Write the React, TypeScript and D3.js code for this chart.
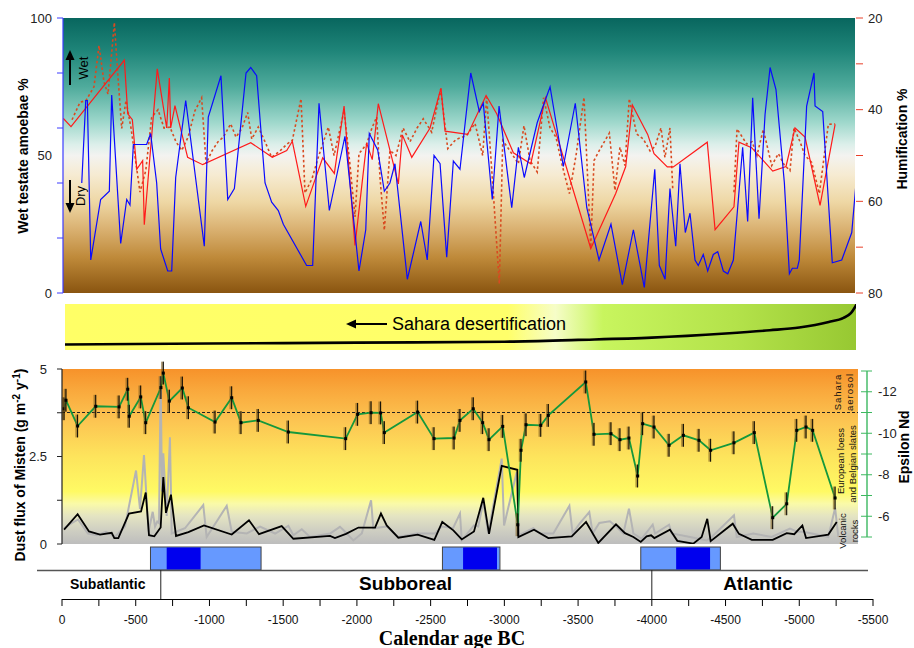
import React from "react"
import * as d3 from "d3"

// ---- top panel: testate amoebae (left axis) and humification (right axis)
const blueAge = [-134, -161, -172, -195, -262, -321, -337, -398, -439, -461, -484, -574, -601, -642, -669, -717, -744, -771, -839, -965, -992, -1078, -1124, -1169, -1248, -1280, -1320, -1377, -1422, -1467, -1501, -1659, -1700, -1743, -1813, -1919, -2014, -2060, -2084, -2141, -2186, -2224, -2258, -2342, -2433, -2477, -2523, -2564, -2609, -2654, -2699, -2772, -2830, -2857, -2918, -2964, -3050, -3095, -3135, -3223, -3310, -3400, -3481, -3559, -3642, -3723, -3800, -3875, -3949, -4020, -4051, -4090, -4123, -4162, -4191, -4227, -4259, -4293, -4315, -4349, -4379, -4417, -4447, -4485, -4515, -4553, -4616, -4650, -4684, -4727, -4768, -4802, -4842, -4899, -4933, -4953, -4987, -5000, -5050, -5100, -5107, -5159, -5224, -5288, -5356, -5385]
const blueVal = [40, 70, 70, 12, 34, 37, 72, 18, 34, 32, 54, 54, 58, 40, 16, 8, 8, 42, 70, 17, 64, 79, 34, 38, 80, 82, 79, 40, 33, 30, 25, 10, 10, 69, 30, 57, 8, 23, 58, 52, 37, 40, 47, 5, 26, 12, 50, 47, 13, 48, 45, 80, 66, 69, 34, 68, 31, 53, 42, 62, 75, 46, 69, 31, 12, 25, 3, 23, 2, 45, 10, 5, 38, 17, 47, 22, 29, 12, 10, 14, 8, 14, 15, 8, 7, 12, 53, 26, 71, 27, 65, 82, 74, 40, 7, 9, 9, 12, 68, 80, 68, 66, 11, 12, 22, 40]

const humAge = [-9, -61, -423, -446, -477, -507, -547, -558, -646, -710, -728, -737, -766, -852, -954, -1280, -1426, -1524, -1562, -1653, -1768, -1847, -1913, -1987, -2066, -2104, -2145, -2281, -2308, -2372, -2496, -2570, -2598, -2751, -2876, -2948, -3061, -3179, -3279, -3586, -3755, -3823, -3868, -3972, -4015, -4105, -4146, -4376, -4429, -4557, -4591, -4677, -4820, -4910, -4971, -5039, -5141, -5243]
const humVal = [41.9, 43.7, 29.2, 40.9, 42.2, 53, 51.1, 65.1, 31.1, 44, 33.1, 44, 39.1, 50.4, 52, 47.2, 50.4, 48.9, 46.9, 61.1, 50.5, 53.9, 39.2, 69.6, 47.3, 50.9, 38.7, 56.2, 45.5, 50.4, 44, 35.3, 44.7, 45.4, 36.9, 40.9, 49.4, 51.8, 37.4, 70.3, 58.3, 52.4, 39, 45.4, 49.6, 52.5, 52.5, 47.1, 66.2, 61.2, 47.1, 48.3, 53.4, 52.4, 44, 46, 60.9, 43.2]

const hum2Age = [-68, -122, -163, -217, -251, -285, -312, -355, -380, -405, -434, -468, -529, -568, -608, -651, -692, -732, -773, -812, -855, -902, -947, -977, -1017, -1058, -1094, -1144, -1180, -1221, -1259, -1287, -1331, -1377, -1422, -1478, -1526, -1562, -1621, -1648, -1696, -1738, -1806, -1845, -1913, -1953, -1987, -2014, -2066, -2102, -2134, -2157, -2186, -2224, -2265, -2313, -2360, -2408, -2450, -2507, -2568, -2616, -2672, -2745, -2801, -2853, -2880, -2921, -2966, -2989, -3038, -3095, -3133, -3174, -3223, -3266, -3310, -3350, -3391, -3441, -3486, -3540, -3586, -3608, -3637, -3712, -3750, -3784, -3818, -3847, -3897, -3942, -3988, -4022, -4062, -4089, -4123, -4142, -4350, -4557, -4578, -4644, -4680, -4713, -4756, -4813, -4858, -4897, -4937, -4964, -5005, -5039, -5084, -5136, -5197, -5243]
const hum2Val = [42.2, 38.4, 38, 35, 26, 34, 36.6, 21, 33, 44.1, 38, 44, 58, 53.3, 41.7, 40, 44, 43.8, 47, 48.9, 46, 40.2, 37.4, 51.8, 49, 47, 46, 43.1, 46, 44, 40.6, 46.4, 43.8, 47, 50.4, 49, 47.5, 46.7, 37.6, 58.2, 55, 50.4, 43.8, 50, 40.2, 52, 63.4, 49.6, 47.5, 44, 41.6, 55, 66.3, 48.9, 50, 44, 47, 44, 42, 44.9, 35.5, 48.5, 46.5, 45.6, 43, 50, 37.3, 56.2, 78, 46.7, 49, 51.8, 43.5, 51.1, 53.6, 37.4, 44, 46, 52, 58.3, 50, 37.3, 70, 51.1, 49.3, 45.1, 57.6, 48.2, 52.2, 37.6, 45.3, 46.4, 49, 48, 44, 50.4, 44, 57.3, null, 58, 44.2, 47.5, 47, 50, 44.3, 52.2, 49.6, 52, 53.3, 44, 47, 50, 51.5, 58.3, 43.2, 43.1]

// ---- Sahara desertification band
const saharaAge = [0, -1000, -2000, -3000, -3500, -4000, -4500, -4800, -5000, -5200, -5300, -5350, -5390]
const saharaVal = [0.12, 0.14, 0.16, 0.18, 0.22, 0.27, 0.36, 0.43, 0.49, 0.61, 0.7, 0.8, 1.0]

// ---- bottom panel: epsilon Nd and dust flux
const ndAge = [-14, -27, -106, -229, -387, -446, -456, -534, -568, -671, -687, -728, -816, -857, -1038, -1151, -1214, -1331, -1535, -1924, -2005, -2096, -2161, -2186, -2412, -2523, -2659, -2699, -2789, -2853, -2896, -2989, -3091, -3113, -3147, -3247, -3298, -3552, -3608, -3723, -3784, -3845, -3904, -3938, -4015, -4117, -4214, -4320, -4399, -4557, -4695, -4820, -4915, -4983, -5046, -5091, -5243]
const ndVal = [-11.18, -11.59, -10.35, -11.3, -11.27, -12.12, -10.82, -11.75, -10.51, -12.2, -12.9, -11.55, -12.18, -11.23, -10.54, -11.71, -10.51, -10.62, -10.06, -9.74, -10.91, -10.99, -10.98, -10.03, -11.02, -9.74, -9.77, -10.62, -11.18, -10.51, -9.69, -10.33, -5.59, -9.18, -10.41, -10.38, -10.86, -12.47, -9.95, -9.98, -9.69, -9.77, -7.94, -10.46, -10.3, -9.42, -9.9, -9.66, -9.18, -9.54, -10.03, -5.93, -6.6, -10.14, -10.3, -10.14, -6.88]
const ndErr = 0.55

const dustAge = [-14, -106, -183, -258, -337, -355, -382, -454, -536, -568, -590, -626, -669, -687, -705, -739, -773, -857, -963, -1151, -1268, -1336, -1490, -1569, -1818, -1851, -1926, -2010, -2123, -2163, -2202, -2281, -2412, -2525, -2579, -2654, -2711, -2794, -2857, -2896, -2982, -3088, -3095, -3201, -3298, -3457, -3554, -3637, -3757, -3818, -3875, -3925, -3965, -3995, -4017, -4123, -4173, -4281, -4338, -4376, -4399, -4549, -4591, -4678, -4820, -4915, -4966, -5021, -5046, -5197, -5254]
const dustVal = [0.41, 0.85, 0.36, 0.27, 0.32, 0.17, 0.17, 0.87, 0.93, 1.47, 0.25, 0.22, 0.47, 1.91, 0.89, 1.41, 0.23, 0.34, 0.53, 0.27, 0.68, 0.28, 0.51, 0.15, 0.23, 0.17, 0.29, 0.47, 0.47, 0.87, 0.53, 0.18, 0.27, 0.12, 0.63, 0.39, 0.13, 0.36, 1.32, 0.29, 2.23, 2.12, 0.2, 0.41, 0.17, 0.22, 0.63, 0.03, 0.56, 0.31, 0.2, 0.06, 0.22, 0.25, 0.17, 0.41, 0.09, 0.01, 0.2, 0.72, 0.08, 0.58, 0.29, 0.12, 0.12, 0.31, 0.28, 0.53, 0.17, 0.27, 0.63]

const dustHiAge = [-14, -68, -109, -176, -237, -298, -359, -427, -502, -529, -556, -587, -615, -631, -646, -658, -669, -678, -687, -710, -732, -744, -834, -958, -981, -1117, -1151, -1253, -1343, -1445, -1535, -1569, -1626, -1682, -1818, -1885, -1908, -1976, -2033, -2096, -2111, -2202, -2277, -2406, -2530, -2575, -2652, -2699, -2711, -2794, -2823, -2857, -2891, -2982, -2998, -3084, -3099, -3196, -3242, -3332, -3441, -3463, -3513, -3576, -3599, -3644, -3716, -3757, -3807, -3845, -3875, -3931, -4006, -4022, -4117, -4135, -4259, -4372, -4406, -4557, -4576, -4688, -4813, -4937, -4983, -5027, -5084, -5197, -5243, -5265]
const dustHiVal = [0.45, 0.6, 0.7, 0.3, 0.25, 0.35, 0.2, 0.5, 2.1, 1.0, 2.54, 0.35, 0.92, 0.5, 0.64, 0.6, 4.8, 1.5, 2.59, 0.8, 3.05, 0.3, 0.45, 1.11, 0.2, 1.09, 0.35, 0.3, 0.5, 0.3, 0.52, 0.25, 0.42, 0.2, 0.3, 0.49, 0.4, 0.1, 0.3, 1.25, 0.45, 0.5, 0.2, 0.3, 0.3, 0.5, 0.45, 0.87, 0.1, 0.53, 0.5, 1.2, 0.3, 2.44, 0.53, 2.06, 0.25, 0.45, 0.3, 0.3, 1.09, 0.3, 0.6, 0.91, 0.3, 0.6, 0.65, 0.5, 0.3, 1.01, 0.3, 0.15, 0.55, 0.3, 0.55, 0.3, 0.2, 0.1, 0.2, 0.82, 0.2, 0.3, 0.2, 0.44, 0.35, 0.35, 0.3, 0.2, 1.03, 0.2]

// ---- wet shifts (blue boxes) and chronozones
const boxStart = [-600, -2580, -3925]
const boxEnd = [-1350, -2970, -4465]
const coreStart = [-710, -2720, -4165]
const coreEnd = [-940, -2950, -4395]
const zoneBreaks = [-670, -4000]
const zoneNames = ["Subatlantic", "Subboreal", "Atlantic"]
const zoneMid = [-310, -2330, -4720]

const xTicks = d3.range(0, -5501, -250)
const xLabels = d3.range(0, -5501, -500)

const FONT = "Arial, 'Liberation Sans', sans-serif"
const NARROW = "'Liberation Sans Narrow', 'Arial Narrow', Arial, sans-serif"

export default function App() {
  const x = d3.scaleLinear().domain([0, -5500]).range([62, 873])
  const yWet = d3.scaleLinear().domain([0, 100]).range([293, 18])
  const yHum = d3.scaleLinear().domain([20, 80]).range([18, 293])
  const ySah = d3.scaleLinear().domain([0, 1]).range([350, 304])
  const yDust = d3.scaleLinear().domain([0, 5]).range([544, 369])
  const yNd = d3.scaleLinear().domain([-13, -5]).range([371, 537])

  const path = (ages: number[], vals: (number | null)[], y: d3.ScaleLinear<number, number>, curve = d3.curveLinear) =>
    d3.line<number>()
      .defined(i => vals[i] != null)
      .x(i => x(ages[i]))
      .y(i => y(vals[i] as number))
      .curve(curve)(d3.range(ages.length)) || ""

  const rot = (cx: number, cy: number) => `rotate(-90 ${cx} ${cy})`

  return (
    <div style={{ position: "absolute", left: 0, top: 0 }}>
      <svg width={914} height={648} style={{ display: "block", fontFamily: FONT }}>
        <defs>
          <linearGradient id="topBg" x1="0" y1="0" x2="0" y2="1">
            <stop offset="0" stopColor="#08665e" />
            <stop offset="0.12" stopColor="#1f8579" />
            <stop offset="0.25" stopColor="#4fab9c" />
            <stop offset="0.38" stopColor="#9fd8cc" />
            <stop offset="0.46" stopColor="#dcefea" />
            <stop offset="0.5" stopColor="#f3f3f0" />
            <stop offset="0.57" stopColor="#f6ebd2" />
            <stop offset="0.67" stopColor="#eed7a4" />
            <stop offset="0.77" stopColor="#d9b070" />
            <stop offset="0.87" stopColor="#bf8a3a" />
            <stop offset="1" stopColor="#8a5510" />
          </linearGradient>
          <linearGradient id="botBg" x1="0" y1="0" x2="0" y2="1">
            <stop offset="0" stopColor="#f7922a" />
            <stop offset="0.12" stopColor="#f9a83c" />
            <stop offset="0.3" stopColor="#fcc552" />
            <stop offset="0.5" stopColor="#fde45c" />
            <stop offset="0.7" stopColor="#fffa64" />
            <stop offset="0.77" stopColor="#fafaa8" />
            <stop offset="0.84" stopColor="#e4e4c2" />
            <stop offset="0.92" stopColor="#cfcfc2" />
            <stop offset="1" stopColor="#bdbdbd" />
          </linearGradient>
          <linearGradient id="sahBg" x1="0" y1="0" x2="1" y2="0">
            <stop offset="0" stopColor="#ffff66" />
            <stop offset="0.56" stopColor="#ffff6a" />
            <stop offset="0.62" stopColor="#f6fdc8" />
            <stop offset="0.68" stopColor="#c8f55e" />
            <stop offset="0.85" stopColor="#b3e24a" />
            <stop offset="1" stopColor="#97c832" />
          </linearGradient>
          <linearGradient id="humAxis" x1="0" y1="0" x2="0" y2="1">
            <stop offset="0" stopColor="#8a5a50" />
            <stop offset="0.5" stopColor="#f06a6a" />
            <stop offset="1" stopColor="#e02a10" />
          </linearGradient>
          <clipPath id="topClip"><rect x={63} y={18} width={792} height={275} /></clipPath>
          <clipPath id="sahClip"><rect x={65} y={304} width={791} height={46} /></clipPath>
          <clipPath id="botClip"><rect x={62} y={360} width={796} height={184} /></clipPath>
        </defs>

        {/* ================= top panel ================= */}
        <rect x={63} y={18} width={792} height={275} fill="url(#topBg)" />
        <g clipPath="url(#topClip)" fill="none">
          <path d={path(hum2Age, hum2Val, yHum)} stroke="#d84a20" strokeWidth={1.6} strokeDasharray="2.5,2.5" />
          <path d={path(humAge, humVal, yHum)} stroke="#ff1a1a" strokeWidth={1.2} />
          <path d={path(blueAge, blueVal, yWet)} stroke="#0a0aff" strokeWidth={1.2} />
        </g>

        {/* left axis */}
        <line x1={63} x2={63} y1={18} y2={293} stroke="#3b3bff" strokeWidth={1.2} />
        {yWet.ticks(4).map(t => (
          <line key={t} x1={57} x2={63} y1={yWet(t)} y2={yWet(t)} stroke="#3b3bff" />
        ))}
        {[0, 50, 100].map(t => (
          <text key={t} x={52} y={yWet(t) + 4.5} textAnchor="end" fontSize={13} fill="#222">{t}</text>
        ))}
        <text transform={rot(28, 156)} x={28} y={156} textAnchor="middle" fontSize={14} fontWeight="bold">Wet testate amoebae %</text>

        {/* wet / dry arrows */}
        <line x1={70} x2={70} y1={85} y2={58} stroke="#000" strokeWidth={2} />
        <polygon points="70,50 65.5,60 74.5,60" fill="#000" />
        <text transform={rot(88, 68)} x={88} y={68} textAnchor="middle" fontSize={13}>Wet</text>
        <line x1={70} x2={70} y1={180} y2={205} stroke="#000" strokeWidth={2} />
        <polygon points="70,213 65.5,203 74.5,203" fill="#000" />
        <text transform={rot(85, 196)} x={85} y={196} textAnchor="middle" fontSize={13}>Dry</text>

        {/* right axis (humification) */}
        <line x1={856} x2={856} y1={18} y2={293} stroke="url(#humAxis)" strokeWidth={1.4} />
        {d3.range(20, 81, 10).map(t => (
          <line key={t} x1={856} x2={863} y1={yHum(t)} y2={yHum(t)} stroke="#e8402a" />
        ))}
        {[20, 40, 60, 80].map(t => (
          <text key={t} x={868} y={yHum(t) + 4.5} fontSize={13} fill="#222">{t}</text>
        ))}
        <text transform={rot(907, 139)} x={907} y={139} textAnchor="middle" fontSize={14} fontWeight="bold">Humification %</text>

        {/* ================= Sahara band ================= */}
        <rect x={65} y={304} width={791} height={46} fill="url(#sahBg)" />
        <path clipPath="url(#sahClip)" d={path(saharaAge, saharaVal, ySah, d3.curveMonotoneX)} fill="none" stroke="#000" strokeWidth={2.6} />
        <line x1={354} x2={387} y1={324} y2={324} stroke="#000" strokeWidth={2} />
        <polygon points="346,324 356,319.5 356,328.5" fill="#000" />
        <text x={392} y={330} fontSize={18} fontFamily={NARROW}>Sahara desertification</text>

        {/* ================= bottom panel ================= */}
        <rect x={62} y={369} width={796} height={175} fill="url(#botBg)" />
        <line x1={62} x2={858} y1={yNd(-11)} y2={yNd(-11)} stroke="#222" strokeWidth={1} strokeDasharray="3,2" />
        <g clipPath="url(#botClip)" fill="none">
          <path d={path(dustHiAge, dustHiVal, yDust)} stroke="#b4b4b4" strokeWidth={2} />
          <path d={path(dustAge, dustVal, yDust)} stroke="#000" strokeWidth={1.8} />
        </g>
        <path d={path(ndAge, ndVal, yNd)} fill="none" stroke="#15983c" strokeWidth={1.8} />
        {ndAge.map((a, i) => (
          <g key={i}>
            <line x1={x(a) - 1} x2={x(a) - 1} y1={yNd(ndVal[i] - ndErr)} y2={yNd(ndVal[i] + ndErr)} stroke="#7a5a20" strokeOpacity={0.6} strokeWidth={2.5} />
            <line x1={x(a)} x2={x(a)} y1={yNd(ndVal[i] - ndErr)} y2={yNd(ndVal[i] + ndErr)} stroke="#000" strokeWidth={1} />
            <rect x={x(a) - 1.5} y={yNd(ndVal[i]) - 1.5} width={3} height={3} fill="#000" />
          </g>
        ))}

        {/* left axis dust */}
        <line x1={62} x2={62} y1={369} y2={544} stroke="#222" strokeWidth={1.2} />
        {[0, 1.25, 2.5, 3.75, 5].map(t => (
          <line key={t} x1={57} x2={62} y1={yDust(t)} y2={yDust(t)} stroke="#222" />
        ))}
        {[0, 2.5, 5].map(t => (
          <text key={t} x={47} y={yDust(t) + 4.5} textAnchor="end" fontSize={13} fill="#222">{t}</text>
        ))}
        <text transform={rot(25, 465)} x={25} y={465} textAnchor="middle" fontSize={14} fontWeight="bold">
          Dust flux of Misten (g m<tspan dy={-5} fontSize={10}>-2</tspan><tspan dy={5}> y</tspan><tspan dy={-5} fontSize={10}>-1</tspan><tspan dy={5}>)</tspan>
        </text>

        {/* right axis epsilon Nd */}
        <line x1={867} x2={867} y1={371} y2={537} stroke="#3cb860" strokeWidth={1.4} />
        {d3.range(-13, -4, 1).map(t => (
          <line key={t} x1={861} x2={872} y1={yNd(t)} y2={yNd(t)} stroke="#3cb860" />
        ))}
        {[-12, -10, -8, -6].map(t => (
          <text key={t} x={878} y={yNd(t) + 4.5} fontSize={13} fill="#222">{t}</text>
        ))}
        <text transform={rot(909, 447)} x={909} y={447} textAnchor="middle" fontSize={14} fontWeight="bold">Epsilon Nd</text>

        {/* source labels */}
        <g fontSize={9.5} fill="#111">
          <text transform={rot(841, 392)} x={841} y={392} textAnchor="middle" letterSpacing={1}>Sahara</text>
          <text transform={rot(853, 392)} x={853} y={392} textAnchor="middle" letterSpacing={1}>aerosol</text>
          <text transform={rot(844, 461)} x={844} y={461} textAnchor="middle">European loess</text>
          <text transform={rot(856, 464)} x={856} y={464} textAnchor="middle">and Belgian slates</text>
          <text transform={rot(846, 531)} x={846} y={531} textAnchor="middle">Volcanic</text>
          <text transform={rot(858, 531)} x={858} y={531} textAnchor="middle">rocks</text>
        </g>

        {/* ================= wet shift boxes and chronozones ================= */}
        {boxStart.map((s, i) => (
          <g key={i}>
            <rect x={x(s)} y={547} width={x(boxEnd[i]) - x(s)} height={23} fill="#6699ff" stroke="#444" strokeWidth={1} />
            <rect x={x(coreStart[i])} y={547.5} width={x(coreEnd[i]) - x(coreStart[i])} height={22} fill="#0000ee" />
          </g>
        ))}
        <line x1={37} x2={868} y1={570.5} y2={570.5} stroke="#555" strokeWidth={1.3} />
        {zoneBreaks.map(b => (
          <line key={b} x1={x(b)} x2={x(b)} y1={570} y2={599} stroke="#222" strokeWidth={1} />
        ))}
        {zoneNames.map((n, i) => (
          <text key={n} x={x(zoneMid[i])} y={i === 0 ? 589 : 590} textAnchor="middle" fontWeight="bold" fontSize={i === 0 ? 14 : 19}>{n}</text>
        ))}

        {/* calendar age axis */}
        <line x1={62} x2={873} y1={599.5} y2={599.5} stroke="#000" strokeWidth={1.2} />
        {xTicks.map(t => (
          <line key={t} x1={x(t)} x2={x(t)} y1={599} y2={606} stroke="#000" />
        ))}
        {xLabels.map(t => (
          <text key={t} x={x(t)} y={624} textAnchor="middle" fontSize={12} fontFamily={NARROW} fill="#111">{t}</text>
        ))}
        <text x={452} y={645} textAnchor="middle" fontFamily="'Liberation Serif', 'Times New Roman', serif" fontWeight="bold" fontSize={20}>Calendar age BC</text>
      </svg>
    </div>
  )
}
